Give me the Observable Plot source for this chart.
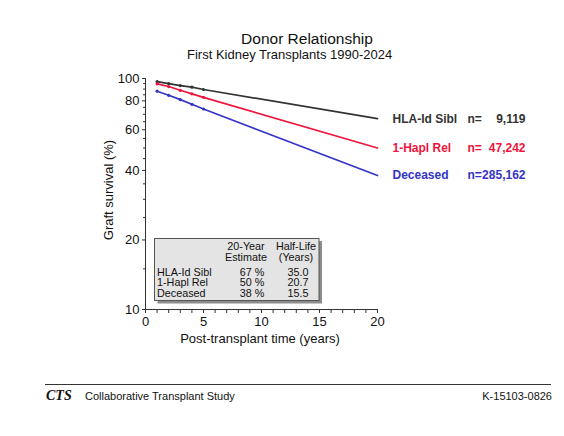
<!DOCTYPE html>
<html>
<head>
<meta charset="utf-8">
<script src="https://cdn.jsdelivr.net/npm/d3@7"></script>
<script src="https://cdn.jsdelivr.net/npm/@observablehq/plot@0.6"></script>
<style>
  html, body { margin: 0; padding: 0; background: white; }
  #chart { position: relative; width: 564px; height: 436px; }
</style>
</head>
<body>
<div id="chart"></div>
<script>
// ---- data ----
const years = [1, 2, 3, 4, 5];
const groups = ["HLA-Id Sibl", "1-Hapl Rel", "Deceased"];
const counts = ["9,119", "47,242", "285,162"];
const hlaSurv = [97.0, 95.1, 93.2, 91.7, 89.6];
const haplSurv = [94.8, 92.3, 88.9, 85.8, 82.9];
const decSurv = [88.1, 84.6, 81.0, 77.3, 73.8];
const estimate20 = [67, 50, 38];
const halfLife = ["35.0", "20.7", "15.5"];
const colors = ["#333333", "#f0143c", "#3434c8"];
const xTicks = d3.range(0, 21);
const xLabels = [0, 5, 10, 15, 20];
const yLabels = [10, 20, 40, 60, 80, 100];
const yMinor = [15, 25, 30, 35, 45, 50, 55, 65, 70, 75, 85, 90, 95];

const survs = [hlaSurv, haplSurv, decSurv];
const dotData = [];
const lineData = [];
groups.forEach((g, i) => {
  years.forEach((t, j) => {
    dotData.push({group: g, t, s: survs[i][j]});
    lineData.push({group: g, t, s: survs[i][j]});
  });
  lineData.push({group: g, t: 20, s: estimate20[i]});
});
const endData = groups.map((g, i) => ({group: g, s: estimate20[i], n: counts[i]}));

const font = "Liberation Sans, Arial, Helvetica, sans-serif";

const chart = Plot.plot({
  width: 564,
  height: 436,
  marginLeft: 145,
  marginRight: 187,
  marginTop: 78,
  marginBottom: 127,
  style: {fontFamily: font, fontSize: "13px", color: "#111", background: "white"},
  x: {domain: [0, 20]},
  y: {type: "log", domain: [10, 100]},
  color: {domain: groups, range: colors},
  marks: [
    Plot.axisX({ticks: xTicks, tickSize: 4, tickPadding: 3, label: null,
      tickFormat: d => xLabels.includes(d) ? String(d) : "", fontSize: 13, stroke: "#333"}),
    Plot.axisY({ticks: yLabels, tickSize: 3, tickPadding: 3, label: null,
      tickFormat: d => String(d), fontSize: 13, stroke: "#333"}),
    Plot.axisY({ticks: yMinor, tickSize: 2, label: null, tickFormat: () => "", stroke: "#333"}),
    Plot.ruleX([0], {y1: 10, y2: 100, stroke: "#333"}),
    Plot.ruleY([10], {x1: -0.2, x2: 20, stroke: "#333"}),
    Plot.line(lineData, {x: "t", y: "s", z: "group", stroke: "group", strokeWidth: 1.7}),
    Plot.dot(dotData, {x: "t", y: "s", fill: "group", r: 1.6}),
    Plot.text(endData, {x: 20, y: "s", text: "group", dx: 15, textAnchor: "start",
      fill: "group", fontWeight: "bold", fontSize: 12}),
    Plot.text(endData, {x: 20, y: "s", text: () => "n=", dx: 90, textAnchor: "start",
      fill: "group", fontWeight: "bold", fontSize: 12}),
    Plot.text(endData, {x: 20, y: "s", text: "n", dx: 148, textAnchor: "end",
      fill: "group", fontWeight: "bold", fontSize: 12})
  ]
});
document.getElementById("chart").appendChild(chart);

// ---- overlay texts ----
const svg = d3.select(chart);
const g = svg.append("g").attr("font-family", font).attr("fill", "#111").attr("text-anchor", "start");
g.append("text").attr("x", 307).attr("y", 43.5).attr("text-anchor", "middle")
  .attr("font-size", 15.5).text("Donor Relationship");
g.append("text").attr("x", 187).attr("y", 58.5).attr("text-anchor", "start")
  .attr("font-size", 13).text("First Kidney Transplants 1990-2024");
g.append("text").attr("transform", "translate(113,190) rotate(-90)").attr("text-anchor", "middle")
  .attr("font-size", 13).text("Graft survival (%)");
g.append("text").attr("x", 260).attr("y", 343).attr("text-anchor", "middle")
  .attr("font-size", 13).text("Post-transplant time (years)");

// table box
const tb = svg.append("g").attr("font-family", font).attr("font-size", 10.8).attr("fill", "#111")
  .attr("text-anchor", "start");
tb.append("rect").attr("x", 157.5).attr("y", 241).attr("width", 164.5).attr("height", 62.5).attr("fill", "#8c8c8c");
tb.append("rect").attr("x", 154.5).attr("y", 238.5).attr("width", 164.5).attr("height", 62)
  .attr("fill", "#e4e4e4").attr("stroke", "#555").attr("stroke-width", 1);
tb.append("text").attr("x", 246).attr("y", 249.5).attr("text-anchor", "middle").text("20-Year");
tb.append("text").attr("x", 246).attr("y", 260.5).attr("text-anchor", "middle").text("Estimate");
tb.append("text").attr("x", 296).attr("y", 249.5).attr("text-anchor", "middle").text("Half-Life");
tb.append("text").attr("x", 296).attr("y", 260.5).attr("text-anchor", "middle").text("(Years)");
const rowY = [275.5, 286, 296.5];
groups.forEach((name, i) => {
  tb.append("text").attr("x", 157).attr("y", rowY[i]).attr("text-anchor", "start").text(name);
  tb.append("text").attr("x", 252).attr("y", rowY[i]).attr("text-anchor", "middle").text(estimate20[i] + " %");
  tb.append("text").attr("x", 298).attr("y", rowY[i]).attr("text-anchor", "middle").text(halfLife[i]);
});

// footer
const f = svg.append("g").attr("font-family", font).attr("fill", "#111").attr("text-anchor", "start");
f.append("line").attr("x1", 45).attr("x2", 551).attr("y1", 384.5).attr("y2", 384.5)
  .attr("stroke", "#333").attr("stroke-width", 1);
f.append("text").attr("x", 46).attr("y", 400).attr("text-anchor", "start")
  .attr("font-family", "Liberation Serif, serif").attr("font-weight", "bold")
  .attr("font-style", "italic").attr("font-size", 14).text("CTS");
f.append("text").attr("x", 85).attr("y", 400).attr("text-anchor", "start")
  .attr("font-size", 11).text("Collaborative Transplant Study");
f.append("text").attr("x", 552).attr("y", 400).attr("text-anchor", "end").attr("font-size", 11).text("K-15103-0826");
</script>
</body>
</html>
